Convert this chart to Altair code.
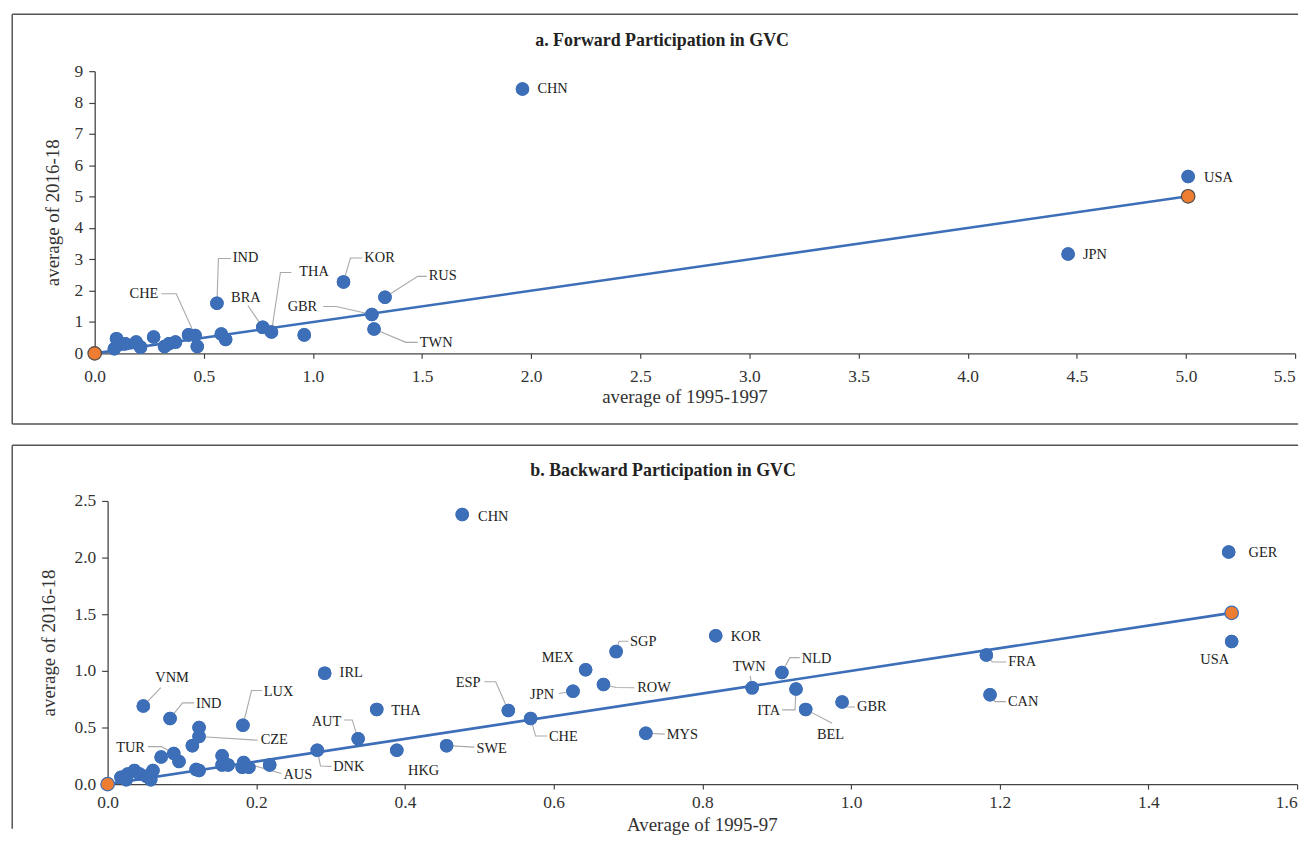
import altair as alt
import pandas as pd

# ---------------- data: panel a (forward participation) ----------------
a_country = ["CHN", "USA", "JPN", "KOR", "RUS", "GBR", "TWN", "IND", "BRA", "THA", "CHE",
             "", "", "", "", "", "", "", "", "", "", "", "", "", ""]
a_x = [1.96, 5.01, 4.46, 1.14, 1.33, 1.27, 1.28, 0.56, 0.77, 0.81, 0.46,
       0.96, 0.10, 0.09, 0.14, 0.19, 0.21, 0.27, 0.32, 0.34, 0.37, 0.43, 0.47, 0.58, 0.60]
a_y = [8.43, 5.64, 3.17, 2.28, 1.79, 1.24, 0.78, 1.60, 0.83, 0.68, 0.57,
       0.59, 0.47, 0.15, 0.31, 0.36, 0.20, 0.52, 0.22, 0.31, 0.36, 0.59, 0.22, 0.62, 0.44]
a_ref_x = [0.0, 5.01]
a_ref_y = [0.0, 5.01]

# ---------------- data: panel b (backward participation) ----------------
b_country = ["CHN", "GER", "USA", "FRA", "CAN", "KOR", "SGP", "MEX", "ROW", "JPN", "ESP",
             "CHE", "MYS", "TWN", "NLD", "ITA", "BEL", "GBR", "IRL", "THA", "AUT", "DNK",
             "HKG", "SWE", "VNM", "IND", "LUX", "CZE", "AUS", "TUR",
             "", "", "", "", "", "", "", "", "", "", "", "", "", "", "", "", "", "", "", ""]
b_x = [0.477, 1.508, 1.512, 1.182, 1.187, 0.818, 0.684, 0.643, 0.667, 0.626, 0.539,
       0.569, 0.724, 0.867, 0.907, 0.926, 0.939, 0.988, 0.292, 0.362, 0.337, 0.282,
       0.389, 0.456, 0.048, 0.084, 0.182, 0.123, 0.183, 0.089,
       0.123, 0.114, 0.072, 0.096, 0.119, 0.123, 0.154, 0.154, 0.162, 0.181, 0.190, 0.218,
       0.018, 0.027, 0.036, 0.043, 0.052, 0.058, 0.061, 0.025]
b_y = [2.38, 2.05, 1.26, 1.14, 0.79, 1.31, 1.17, 1.01, 0.88, 0.82, 0.65,
       0.58, 0.45, 0.85, 0.985, 0.84, 0.66, 0.725, 0.98, 0.66, 0.40, 0.30,
       0.30, 0.34, 0.69, 0.58, 0.52, 0.42, 0.19, 0.27,
       0.50, 0.34, 0.24, 0.20, 0.13, 0.12, 0.25, 0.17, 0.17, 0.15, 0.15, 0.17,
       0.06, 0.09, 0.12, 0.09, 0.07, 0.04, 0.12, 0.04]
b_ref_x = [0.0, 1.512]
b_ref_y = [0.0, 1.512]

# label placement (pixel offsets from the point): align, dx, dy, leader vertices
a_labels = {
    "CHN": ("left", 15, 0, []),
    "USA": ("left", 16, 2, []),
    "JPN": ("left", 15, 1, []),
    "KOR": ("left", 21, -24, [(7, -24), (19, -24)]),
    "RUS": ("left", 44, -21, [(33, -21), (42, -21)]),
    "IND": ("left", 16, -45, [(1.5, -45), (14, -45)]),
    "THA": ("left", 28, -60, [(9, -60), (20, -60)]),
    "BRA": ("center", -17, -30, [(-15, -22)]),
    "CHE": ("right", -37, -42, [(-19, -42), (-34, -42)]),
    "GBR": ("right", -55, -8, [(-36, -8), (-49, -8)]),
    "TWN": ("left", 46, 14, [(32, 13.5), (44, 13.5)]),
}
b_labels = {
    "CHN": ("left", 16, 2, []),
    "GER": ("left", 20, 1, []),
    "USA": ("center", -17, 19, []),
    "FRA": ("left", 22, 7, [(6, 7), (20, 7)]),
    "CAN": ("left", 18, 7, [(5, 7), (16, 7)]),
    "GBR": ("left", 15, 5, [(4, 5), (13, 5)]),
    "BEL": ("center", 25, 26, [(26.7, 14)]),
    "ITA": ("right", -16, 22, [(-1, 21), (-14, 21)]),
    "NLD": ("left", 20, -14, [(8, -15), (18, -15)]),
    "TWN": ("center", -3, -21, [(-2, -12)]),
    "KOR": ("left", 15, 1, []),
    "SGP": ("left", 14, -10, [(3, -10.5), (12.5, -10.5)]),
    "MEX": ("right", -12, -12, []),
    "ROW": ("left", 34, 4, [(13, 3), (31, 3.3)]),
    "JPN": ("right", -19, 4, [(-14, 2.3)]),
    "ESP": ("right", -28, -28, [(-12.7, -29), (-24, -29)]),
    "CHE": ("left", 18.5, 19, [(5, 17.7), (16.7, 17.7)]),
    "MYS": ("left", 21, 1.7, [(19, 1)]),
    "SWE": ("left", 30, 3.4, [(28, 1.5)]),
    "HKG": ("center", 27, 21, []),
    "DNK": ("left", 16, 17, [(3.3, 16), (14.3, 16.3)]),
    "AUT": ("right", -17, -17, [(-6, -19), (-14, -19)]),
    "THA": ("left", 14.5, 1.7, []),
    "IRL": ("left", 15, 0, []),
    "LUX": ("left", 21, -33.5, [(8.7, -35), (19.3, -35)]),
    "CZE": ("left", 62, 3.7, [(59, 3.7)]),
    "AUS": ("left", 40, 12.4, [(38, 11)]),
    "TUR": ("right", -29, -6, [(-12.6, -7), (-26, -7)]),
    "IND": ("left", 26, -15, [(12.6, -15.7), (24.3, -15.7)]),
    "VNM": ("center", 29, -28, [(17.7, -18.4)]),
}

BLUE = "#3D6EB8"
ORANGE = "#EE7D31"
GREY = "#A9A9A9"
FRAME = "#555555"
SERIF = "Liberation Serif"


def panel(countries, xs, ys, refx, refy, labels, cfg):
    W, H = cfg["W"], cfg["H"]
    x0 = cfg["x0"]  # horizontal shift of the plot area inside the panel group
    xmax, ymax = cfg["xdom"], cfg["ydom"]
    kx, ky = W / xmax, H / ymax
    pts = pd.DataFrame({"country": countries, "x": xs, "y": ys})
    ref = pd.DataFrame({"x": refx, "y": refy})

    lab_rows, lead_rows = [], []
    for c, xv, yv in zip(countries, xs, ys):
        if c in labels:
            al, dx, dy, lead = labels[c]
            lab_rows.append({"country": c, "align": al,
                             "x": xv + dx / kx, "y": yv - dy / ky})
            if lead:
                lead_rows.append({"country": c, "i": 0, "x": xv, "y": yv})
                for k, (ldx, ldy) in enumerate(lead, start=1):
                    lead_rows.append({"country": c, "i": k,
                                      "x": xv + ldx / kx, "y": yv - ldy / ky})
    labs = pd.DataFrame(lab_rows)
    leads = pd.DataFrame(lead_rows)

    sx = alt.Scale(domain=[0, xmax], nice=False, zero=True, range=[x0, x0 + W])
    sy = alt.Scale(domain=[0, ymax], nice=False, zero=True)
    ax = alt.Axis(values=cfg["xticks"], format=".1f", grid=False, labelFlush=False,
                  labelOverlap=False, tickSize=5, labelPadding=cfg["xlabpad"],
                  labelAlign={"condition": {"test": f"datum.value >= {xmax - 1e-9}", "value": "right"},
                              "value": "center"})
    ay = alt.Axis(values=cfg["yticks"], format=cfg["yfmt"], grid=False,
                  labelOverlap=False, tickSize=6, labelPadding=cfg["ylabpad"],
                  titlePadding=cfg["ytitlepad"], offset=-x0)

    X = alt.X("x:Q", scale=sx, axis=ax, title=None)
    Y = alt.Y("y:Q", scale=sy, axis=ay, title=cfg["ytitle"])

    points = alt.Chart(pts).mark_circle(size=185, color=BLUE, opacity=1).encode(x=X, y=Y)
    leaders = alt.Chart(leads).mark_line(color=GREY, strokeWidth=1.1).encode(
        x=X, y=Y, detail="country:N", order="i:Q")
    refline = alt.Chart(ref).mark_line(color=BLUE, strokeWidth=2.6).encode(x=X, y=Y)
    orange = alt.Chart(ref).mark_circle(size=185, color=ORANGE, opacity=1,
                                        stroke=cfg["ostroke"], strokeWidth=1.2).encode(x=X, y=Y)
    texts = []
    for al in ["left", "right", "center"]:
        sub = labs[labs["align"] == al]
        if len(sub):
            texts.append(alt.Chart(sub).mark_text(
                align=al, baseline="middle", font=SERIF, fontSize=14.5, color="#222222"
            ).encode(x=X, y=Y, text="country:N"))

    one = pd.DataFrame({"k": [0]})
    fl, ft, fb, fr = cfg["frame"]
    frame_parts = [
        alt.Chart(one).mark_rule(color=FRAME, strokeWidth=1.5).encode(
            x=alt.value(fl), x2=alt.value(fr), y=alt.value(ft)),
        alt.Chart(one).mark_rule(color=FRAME, strokeWidth=1.5).encode(
            x=alt.value(fl), y=alt.value(ft), y2=alt.value(fb)),
    ]
    if cfg["bottom"]:
        frame_parts.append(alt.Chart(one).mark_rule(color=FRAME, strokeWidth=1.5).encode(
            x=alt.value(fl), x2=alt.value(fr), y=alt.value(fb)))
    title = alt.Chart(one).mark_text(
        font=SERIF, fontSize=18, fontWeight="bold", align="center", baseline="middle",
        color="#222222").encode(x=alt.value(cfg["tx"]), y=alt.value(cfg["ty"]),
                                text=alt.value(cfg["title"]))
    xtitle = alt.Chart(one).mark_text(
        font=SERIF, fontSize=19, align="center", baseline="middle", color="#333333"
    ).encode(x=alt.value(x0 + W / 2 + cfg["xtx"]), y=alt.value(H + cfg["xty"]),
             text=alt.value(cfg["xtitle"]))

    return alt.layer(points, leaders, refline, points, orange, *texts, *frame_parts,
                     title, xtitle).properties(width=W + x0, height=H)


pa = panel(a_country, a_x, a_y, a_ref_x, a_ref_y, a_labels, dict(
    W=1208, H=284, x0=-13, xdom=5.5, ydom=9,
    xticks=[i * 0.5 for i in range(12)], yticks=list(range(10)), yfmt="d",
    xtitle="average of 1995-1997", ytitle="average of 2016-18",
    xlabpad=9, xtx=-10, xty=44, ylabpad=6, ytitlepad=12,
    ostroke="#4A4A4A",
    frame=(-96, -57.3, 355, 1198), bottom=True,
    tx=558, ty=-30, title="a. Forward Participation in GVC"))

pb = panel(b_country, b_x, b_y, b_ref_x, b_ref_y, b_labels, dict(
    W=1197, H=285, x0=0, xdom=1.6, ydom=2.5,
    xticks=[round(i * 0.2, 1) for i in range(9)], yticks=[0, 0.5, 1.0, 1.5, 2.0, 2.5], yfmt=".1f",
    xtitle="Average of 1995-97", ytitle="average of 2016-18",
    xlabpad=5, xtx=0, xty=41, ylabpad=6, ytitlepad=16,
    ostroke=BLUE,
    frame=(-96, -56, 330, 1198), bottom=False,
    tx=559, ty=-30, title="b. Backward Participation in GVC"))

chart = alt.vconcat(pa, pb, spacing=19.5).properties(
    padding={"left": 3.25, "top": 1.95, "right": 0, "bottom": 0}
).configure_view(stroke=None).configure_axis(
    domainColor="#444444", tickColor="#444444", domainWidth=1.3, tickWidth=1.2,
    labelFont=SERIF, labelFontSize=17.5, labelColor="#333333",
    titleFont=SERIF, titleFontSize=19, titleFontWeight="normal", titleColor="#333333"
)

chart.save("out.html", embed_options={"renderer": "svg", "actions": False})
